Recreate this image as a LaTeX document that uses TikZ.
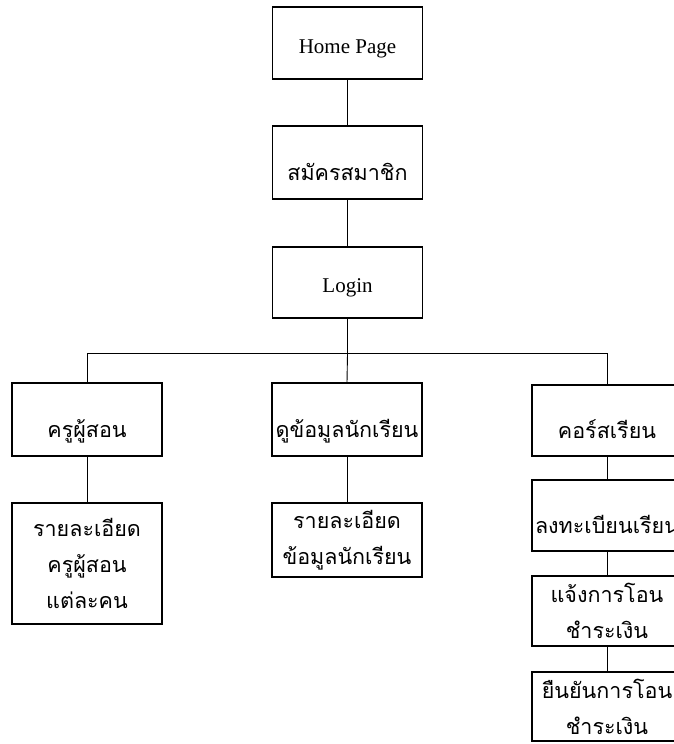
\documentclass[tikz,border=0pt]{standalone}
\usepackage{fontspec}
\setmainfont{Liberation Serif}
\newfontfamily\thaifont[Script=Thai]{Loma}
\begin{document}
\begin{tikzpicture}[x=1pt,y=-1pt,
  box/.style={draw,line width=1.3pt,rectangle,minimum width=150pt,inner sep=0pt,align=center},
  link/.style={line width=0.9pt},
  th/.style={font=\thaifont\fontsize{21.5pt}{36pt}\selectfont},
  thone/.style={th,text height=35pt,text depth=0pt},
  en/.style={font=\fontsize{21pt}{36pt}\selectfont,text height=20.5pt,text depth=0pt}]
\useasboundingbox (0,0) rectangle (674,744);
\clip (0,0) rectangle (674,744);
% top chain
\node[box,en,minimum height=72pt] (home) at (347.5,43) {Home Page};
\node[box,thone,minimum height=73pt] (reg) at (347.5,162.5) {สมัครสมาชิก};
\node[box,en,minimum height=71pt] (login) at (347.5,282.5) {Login};
% second level
\node[box,thone,minimum height=73pt] (teacher) at (87,419.5) {ครูผู้สอน};
\node[box,thone,minimum height=73pt] (student) at (347,419.5) {ดูข้อมูลนักเรียน};
\node[box,thone,minimum height=71pt] (course) at (607,420.5) {คอร์สเรียน};
% details
\node[box,th,minimum height=121pt] (tdetail) at (87,563.5) {รายละเอียด\\ครูผู้สอน\\แต่ละคน};
\node[box,th,minimum height=74pt] (sdetail) at (347,540) {รายละเอียด\\ข้อมูลนักเรียน};
\node[box,thone,minimum height=71pt] (enroll) at (607,515.5) {ลงทะเบียนเรียน};
\node[box,th,minimum height=70pt] (notify) at (607,611) {แจ้งการโอน\\ชำระเงิน};
\node[box,th,minimum height=69pt] (confirm) at (607,706.5) {ยืนยันการโอน\\ชำระเงิน};
% connectors
\coordinate (bus) at ([yshift=-35pt]login.south);
\draw[link] (home) -- (reg);
\draw[link] (reg) -- (login);
\draw[link] (login) -- (bus);
\draw[link] (teacher.north) |- (bus) -| (course.north);
\draw[link] (bus) -- (student.north);
\draw[link] (teacher) -- (tdetail);
\draw[link] (student) -- (sdetail);
\draw[link] (course) -- (enroll);
\draw[link] (enroll) -- (notify);
\draw[link] (notify) -- (confirm);
\end{tikzpicture}
\end{document}
